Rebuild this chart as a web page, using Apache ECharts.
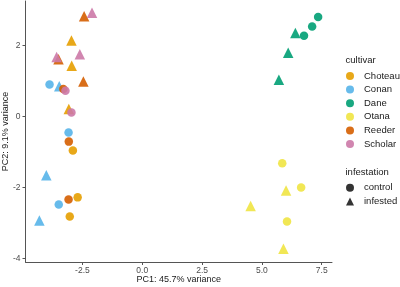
<!DOCTYPE html>
<html><head><meta charset="utf-8">
<script src="https://cdn.jsdelivr.net/npm/echarts@6/dist/echarts.min.js"></script>
<style>html,body{margin:0;padding:0;background:#fff}#c{width:400px;height:287px}</style>
</head><body><div id="c"></div>
<script>
const cultivars = ['Choteau','Conan','Dane','Otana','Reeder','Scholar'];
const colors = ['#E69F00','#56B4E9','#009E73','#F0E442','#D55E00','#CC79A7'];
const infestations = ['control','infested'];
// [PC1, PC2, infestation]
const choteau = [[-2.96,2.14,'infested'],[-2.95,1.43,'infested'],[-3.07,0.21,'infested'],[-2.90,-0.96,'control'],[-2.70,-2.28,'control'],[-3.03,-2.82,'control']];
const conan = [[-3.875,0.90,'control'],[-3.47,0.85,'infested'],[-3.08,-0.45,'control'],[-4.01,-1.66,'infested'],[-3.49,-2.48,'control'],[-4.30,-2.93,'infested']];
const dane = [[7.35,2.80,'control'],[7.10,2.53,'control'],[6.76,2.27,'control'],[6.40,2.35,'infested'],[6.10,1.79,'infested'],[5.71,1.03,'infested']];
const otana = [[5.85,-1.32,'control'],[6.64,-2.0,'control'],[6.01,-2.09,'infested'],[4.53,-2.52,'infested'],[6.05,-2.96,'control'],[5.90,-3.73,'infested']];
const reeder = [[-2.43,2.82,'infested'],[-3.50,1.61,'infested'],[-2.46,0.98,'infested'],[-3.30,0.77,'control'],[-3.07,-0.71,'control'],[-3.08,-2.34,'control']];
const scholar = [[-2.10,2.92,'infested'],[-3.58,1.67,'infested'],[-2.61,1.75,'infested'],[-3.21,0.72,'control'],[-2.96,0.11,'control']];
const xTicks = [-2.5,0,2.5,5,7.5];
const yTicks = [-4,-2,0,2];

const FONT = 'Liberation Sans, Arial, sans-serif';
const groups = [choteau, conan, dane, otana, reeder, scholar];
const series = cultivars.map((name,i)=>({
  name, type:'scatter', data: groups[i],
  symbol: (v)=> v[2]==='infested' ? 'triangle' : 'circle',
  symbolSize: (v)=> v[2]==='infested' ? 10.5 : 8.5,
  itemStyle:{color:colors[i], opacity:0.9},
  z: 2
}));
series.push({name:'control',type:'scatter',data:[],symbol:'circle',itemStyle:{color:'#000'}});
series.push({name:'infested',type:'scatter',data:[],symbol:'triangle',itemStyle:{color:'#000'}});

const lineCol = '#555';
const labelStyle = {color:'#4D4D4D',fontSize:8.5,fontFamily:FONT};
const nameStyle = {color:'#1a1a1a',fontSize:9,fontFamily:FONT};
const legendText = {fontSize:9.5,color:'#1a1a1a',lineHeight:13.6,padding:[0,0,0,5],fontFamily:FONT};
const chart = echarts.init(document.getElementById('c'),null,{renderer:'canvas'});
chart.setOption({
  animation:false,
  backgroundColor:'#fff',
  grid:{left:25.5,top:1,width:306.5,height:261,containLabel:false,outerBoundsMode:'none'},
  xAxis:{
    type:'value',min:-4.88,max:7.93,
    name:'PC1: 45.7% variance',nameLocation:'middle',nameGap:13.5,nameMoveOverlap:false,nameTextStyle:nameStyle,
    axisLine:{show:true,onZero:false,lineStyle:{color:lineCol,width:1}},
    splitLine:{show:false},
    axisTick:{show:true,length:3,lineStyle:{color:lineCol},customValues:xTicks},
    axisLabel:Object.assign({},labelStyle,{customValues:xTicks,margin:4,formatter:v=>v.toFixed(1)})
  },
  yAxis:{
    type:'value',min:-4.1,max:3.25,
    name:'PC2: 9.1% variance',nameLocation:'middle',nameGap:15.5,nameMoveOverlap:false,nameTextStyle:nameStyle,
    axisLine:{show:true,onZero:false,lineStyle:{color:lineCol,width:1}},
    splitLine:{show:false},
    axisTick:{show:true,length:3,lineStyle:{color:lineCol},customValues:yTicks},
    axisLabel:Object.assign({},labelStyle,{customValues:yTicks,margin:5,formatter:v=>String(v)})
  },
  legend:[
    {data:cultivars.map(n=>({name:n,icon:'circle'})),orient:'vertical',left:346,top:69.2,padding:0,
     itemWidth:8,itemHeight:8,itemGap:0,selectedMode:false,textStyle:legendText},
    {data:[{name:'control',icon:'circle'},{name:'infested',icon:'triangle'}],orient:'vertical',left:346,top:181,padding:0,
     itemWidth:8,itemHeight:8,itemGap:0,selectedMode:false,textStyle:legendText}
  ],
  graphic:[
    {type:'text',left:345.5,top:55.5,style:{text:'cultivar',fontSize:9.5,fill:'#1a1a1a',fontFamily:FONT}},
    {type:'text',left:345.5,top:167.5,style:{text:'infestation',fontSize:9.5,fill:'#1a1a1a',fontFamily:FONT}}
  ],
  series
});
</script></body></html>
